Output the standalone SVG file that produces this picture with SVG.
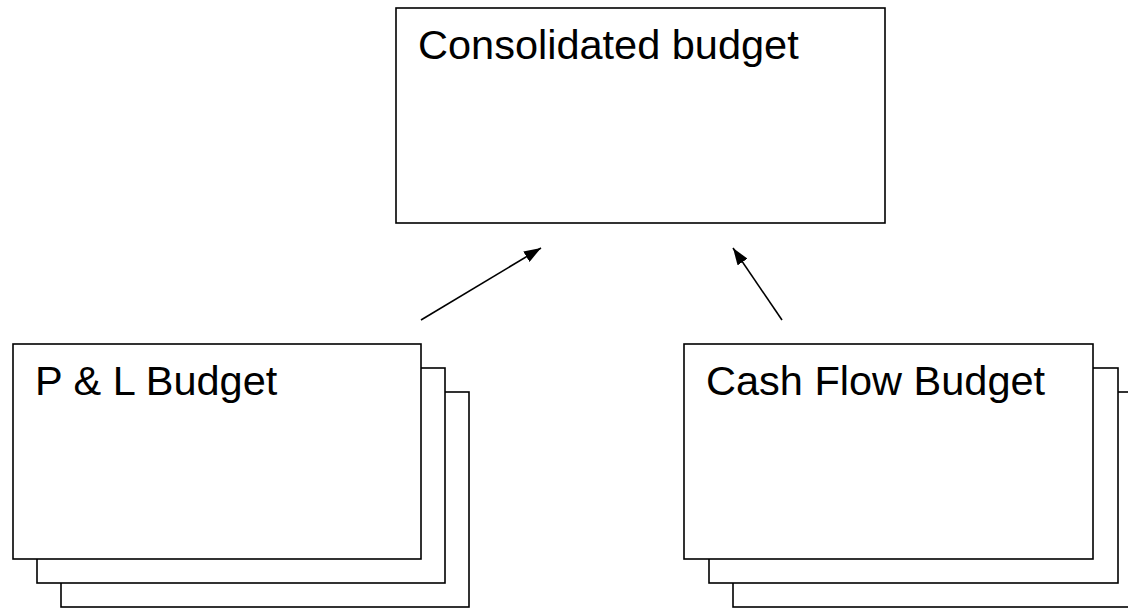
<svg xmlns="http://www.w3.org/2000/svg" width="1128" height="608" viewBox="0 0 1128 608">
<style>
.box{fill:#fff;stroke:#000;stroke-width:1.6}
.lbl{font-family:"Liberation Sans",Arial,sans-serif;font-size:41.5px;fill:#000}
.con{stroke:#000;stroke-width:1.6;fill:none}
</style>
<defs>
<marker id="ah" viewBox="0 0 17 12" refX="17" refY="6" markerWidth="17" markerHeight="12" markerUnits="userSpaceOnUse" orient="auto">
<path d="M0,0 L17,6 L0,12 z" fill="#000"/>
</marker>
</defs>
<rect width="1128" height="608" fill="#fff"/>
<g id="consolidated">
<rect class="box" x="396" y="8" width="489" height="215"/>
<text class="lbl" x="418" y="59">Consolidated budget</text>
</g>
<g id="pl-budget">
<rect class="box" x="61" y="392" width="408" height="215"/>
<rect class="box" x="37" y="368" width="408" height="215"/>
<rect class="box" x="13" y="344" width="408" height="215"/>
<text class="lbl" x="35" y="395">P &amp; L Budget</text>
</g>
<g id="cashflow-budget">
<rect class="box" x="733" y="392" width="409" height="215"/>
<rect class="box" x="709" y="368" width="409" height="215"/>
<rect class="box" x="684" y="344" width="409" height="215"/>
<text class="lbl" x="706" y="395">Cash Flow Budget</text>
</g>
<g id="connectors">
<line class="con" x1="421" y1="320" x2="541" y2="248" marker-end="url(#ah)"/>
<line class="con" x1="782" y1="320" x2="733" y2="248" marker-end="url(#ah)"/>
</g>
</svg>
